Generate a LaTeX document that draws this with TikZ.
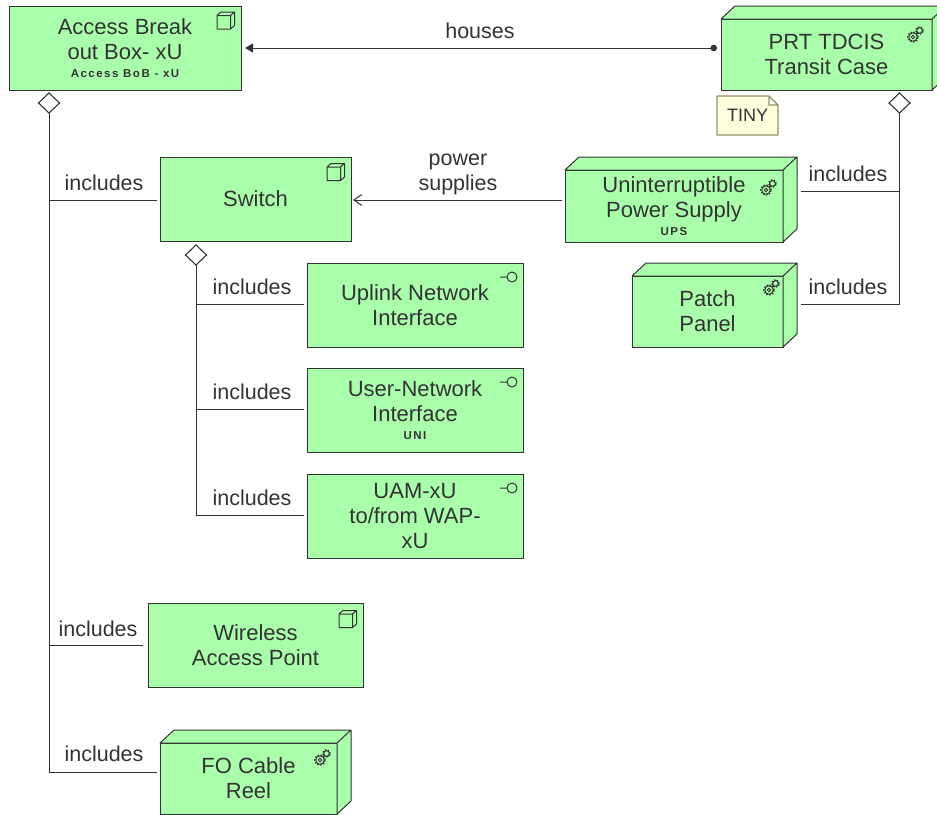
\documentclass[tikz,border=0pt]{standalone}
\usepackage{fontspec}
\setmainfont{Liberation Sans}
\newfontfamily\tagfont[LetterSpace=13]{Liberation Sans}
\usetikzlibrary{arrows.meta,shapes.geometric}
\definecolor{ink}{HTML}{333333}
\definecolor{elem}{HTML}{AAFFAA}
\definecolor{notefill}{HTML}{FFFFDD}
\definecolor{noteline}{HTML}{8F8F6F}
\newcommand{\tagline}[1]{\\[-7pt]{\tagfont\fontsize{11.5}{13}\selectfont\bfseries #1}}
\newcommand{\cuboid}[1]{\draw[ink,line width=1pt,fill=elem,line join=round]
  (#1.north west) -- ++(14,13) -- ([shift={(14pt,13pt)}]#1.north east)
  -- ([shift={(14pt,13pt)}]#1.south east) -- (#1.south east) -- (#1.north east) -- cycle
  (#1.north east) -- ++(14,13);}
\tikzset{
  elembox/.style={draw=ink,line width=1pt,fill=elem,inner sep=0pt,outer sep=0pt,align=center,
    font=\fontsize{22}{25}\selectfont,text=ink},
  lbl/.style={inner sep=0pt,align=center,font=\fontsize{21.5}{25}\selectfont,text=ink},
  conn/.style={draw=ink,line width=1pt},
  agg/.style={diamond,draw=ink,line width=1.1pt,fill=white,inner sep=0pt,outer sep=0pt,aspect=1.1,
    minimum width=21pt,minimum height=20pt},
  pics/cubeicon/.style={code={
    \draw[ink,line width=1pt,line join=round] (-9,-8.5) rectangle (4.5,5)
      (-9,5) -- (-5,8.5) -- (8.5,8.5) -- (8.5,-5) -- (4.5,-8.5) (4.5,5) -- (8.5,8.5);}},
  pics/gearicon/.style={code={
    \draw[ink,line width=0.9pt] (-3,-3) circle (4.2) (-3,-3) circle (1.8) (3.5,3.5) circle (2.8);
    \draw[ink,line width=1.3pt,dash pattern=on 1.5pt off 1.5pt] (-3,-3) circle (5.2) (3.5,3.5) circle (3.8);}},
  pics/ifaceicon/.style={code={
    \draw[ink,line width=1pt] (0,0) circle (5) (-5,0) -- (-12,0);}}
}
\begin{document}
\begin{tikzpicture}[x=1pt,y=1pt]
\useasboundingbox (0,0) rectangle (937,-814);
\clip (0,0) rectangle (937,-814);
\fill[white] (0,0) rectangle (937,-814);
% elements
\node[elembox,minimum width=232pt,minimum height=84pt] (access) at (125,-48)
  {Access Break\\out Box- xU\tagline{Access BoB - xU}};
\node[elembox,minimum width=211pt,minimum height=71pt] (prt) at (826.5,-54.5) {PRT TDCIS\\Transit Case};
\node[elembox,minimum width=218pt,minimum height=72pt] (ups) at (674,-206)
  {Uninterruptible\\Power Supply\tagline{UPS}};
\node[elembox,minimum width=151pt,minimum height=71pt] (patch) at (707.5,-311.5) {Patch\\Panel};
\node[elembox,minimum width=191pt,minimum height=84pt] (switch) at (255.5,-199) {Switch};
\node[elembox,minimum width=216pt,minimum height=84pt] (uplink) at (415,-305) {Uplink Network\\Interface};
\node[elembox,minimum width=216pt,minimum height=84pt] (uni) at (415,-410)
  {User-Network\\Interface\tagline{UNI}};
\node[elembox,minimum width=216pt,minimum height=84pt] (uam) at (415,-516) {UAM-xU\\to/from WAP-\\xU};
\node[elembox,minimum width=215pt,minimum height=84pt] (wap) at (255.5,-645) {Wireless\\Access Point};
\node[elembox,minimum width=177pt,minimum height=71pt] (fo) at (248.5,-778.5) {FO Cable\\Reel};
\cuboid{prt}\cuboid{ups}\cuboid{patch}\cuboid{fo}
% icons
\pic at ([shift={(-15pt,-14.5pt)}]access.north east) {cubeicon};
\pic at ([shift={(-15pt,-15pt)}]switch.north east) {cubeicon};
\pic at ([shift={(-15pt,-16pt)}]wap.north east) {cubeicon};
\pic at ([shift={(-16pt,-15pt)}]prt.north east) {gearicon};
\pic at ([shift={(-14pt,-17pt)}]ups.north east) {gearicon};
\pic at ([shift={(-11pt,-11pt)}]patch.north east) {gearicon};
\pic at ([shift={(-14pt,-14pt)}]fo.north east) {gearicon};
\pic at ([shift={(-11pt,-14pt)}]uplink.north east) {ifaceicon};
\pic at ([shift={(-11pt,-14pt)}]uni.north east) {ifaceicon};
\pic at ([shift={(-11pt,-14pt)}]uam.north east) {ifaceicon};
% note
\draw[noteline,line width=1.1pt,fill=notefill,line join=round]
  (717,-96) -- (769,-96) -- (778,-105) -- (778,-135) -- (717,-135) -- cycle
  (769,-96) -- (769,-105) -- (778,-105);
\node[inner sep=0pt,text=ink,font=\fontsize{18}{20}\selectfont] (tiny) at (747.5,-115) {TINY};
% aggregation diamonds
\node[agg] (d1) at (49,-103) {};
\node[agg] (d2) at (899.5,-103) {};
\node[agg] (d3) at (196,-255) {};
% connectors
\draw[conn,shorten >=3pt] (d1.south) |- ([yshift=-1pt]switch.west);
\draw[conn,shorten >=5pt] (d1.south) |- (wap.west);
\draw[conn,shorten >=3pt] (d1.south) |- ([yshift=6.5pt]fo.west);
\draw[conn,shorten >=3pt] (d3.south) |- ([yshift=1pt]uplink.west);
\draw[conn,shorten >=3pt] (d3.south) |- ([yshift=1pt]uni.west);
\draw[conn,shorten >=3pt] (d3.south) |- ([yshift=1pt]uam.west);
\draw[conn,shorten >=4pt] (d2.south) |- ([shift={(14pt,14.5pt)}]ups.east);
\draw[conn,shorten >=4pt] (d2.south) |- ([shift={(14pt,7.5pt)}]patch.east);
\draw[conn,{Circle[length=6.5pt,width=6.5pt]}-{Triangle[length=8pt,width=9pt]},shorten <=4pt,shorten >=4pt]
  ([yshift=6.5pt]prt.west) -- ([yshift=0pt]access.east);
\draw[conn,-{Straight Barb[length=8pt,width=11pt]},shorten <=3pt,shorten >=2pt]
  ([yshift=6pt]ups.west) -- ([yshift=-1pt]switch.east);
% labels
\node[lbl] (l1) at (480,-31) {houses};
\node[lbl] (l2) at (458,-174) {power\\supplies};
\node[lbl] (l3) at (848,-174) {includes};
\node[lbl] (l4) at (848,-287) {includes};
\node[lbl] (l5) at (104,-183) {includes};
\node[lbl] (l6) at (252,-287) {includes};
\node[lbl] (l7) at (252,-392) {includes};
\node[lbl] (l8) at (252,-498) {includes};
\node[lbl] (l9) at (98,-629) {includes};
\node[lbl] (l10) at (104,-754) {includes};
\end{tikzpicture}
\end{document}
